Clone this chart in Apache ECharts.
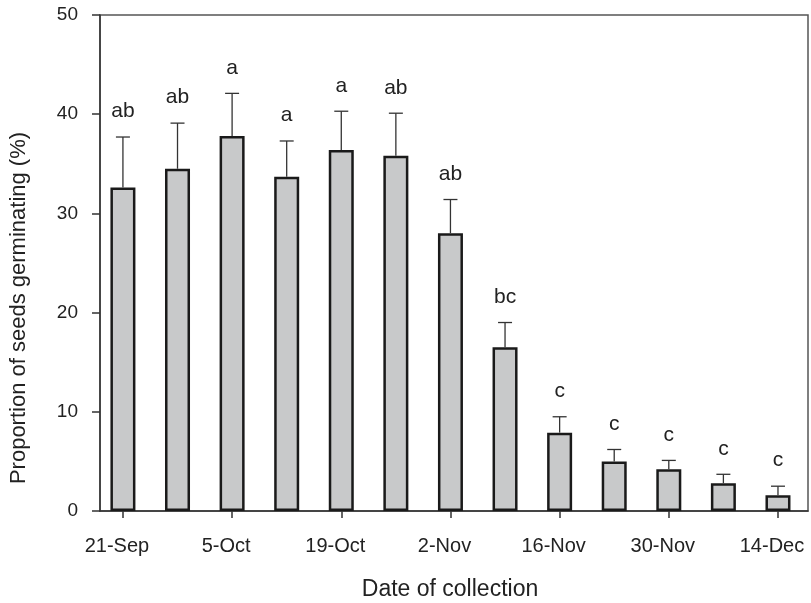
<!DOCTYPE html>
<html>
<head>
<meta charset="utf-8">
<script src="https://cdn.jsdelivr.net/npm/echarts@6/dist/echarts.min.js"></script>
<style>html,body{margin:0;padding:0;background:#fff;}#c{width:811px;height:603px;}</style>
</head>
<body>
<div id="c"></div>
<script>
const categories = ['21-Sep','28-Sep','5-Oct','12-Oct','19-Oct','26-Oct','2-Nov','9-Nov','16-Nov','23-Nov','30-Nov','7-Dec','14-Dec'];
const means = [32.6, 34.5, 37.8, 33.7, 36.4, 35.8, 28.0, 16.5, 7.9, 5.0, 4.2, 2.8, 1.6];
const errTops = [37.7, 39.1, 42.1, 37.3, 40.3, 40.1, 31.4, 19.0, 9.5, 6.2, 5.1, 3.7, 2.5];
const letters = ['ab','ab','a','a','a','ab','ab','bc','c','c','c','c','c'];
const labeledIdx = [0, 2, 4, 6, 8, 10, 12];
const yTicks = [0, 10, 20, 30, 40, 50];

const FONT = '"Liberation Sans", Arial, sans-serif';
const chart = echarts.init(document.getElementById('c'), null, {renderer: 'canvas'});
chart.setOption({
  animation: false,
  backgroundColor: '#fff',
  grid: {left: 100, right: 3, top: 15, bottom: 92, containLabel: false, outerBoundsMode: 'none', show: true, borderColor: '#555', borderWidth: 1.5, backgroundColor: 'transparent'},
  xAxis: {
    type: 'value',
    min: -0.42,
    max: 12.55,
    splitLine: {show: false},
    axisLine: {onZero: false, lineStyle: {color: '#333', width: 1.5}},
    axisTick: {show: true, customValues: labeledIdx, length: 7, lineStyle: {color: '#333', width: 1.5}},
    axisLabel: {customValues: labeledIdx, formatter: v => categories[Math.round(v)], margin: 25, padding: [0, 12, 0, 0], fontSize: 20, color: '#222', fontFamily: FONT},
    name: 'Date of collection',
    nameLocation: 'middle',
    nameGap: 67,
    nameTextStyle: {fontSize: 23, color: '#222', fontFamily: FONT, padding: [0, 8, 0, 0]}
  },
  yAxis: {
    type: 'value',
    min: yTicks[0],
    max: yTicks[yTicks.length - 1],
    interval: 10,
    splitLine: {show: false},
    axisLine: {show: true, onZero: false, lineStyle: {color: '#333', width: 1.5}},
    axisTick: {show: true, length: 8, lineStyle: {color: '#333', width: 1.5}},
    axisLabel: {margin: 22, fontSize: 19, color: '#222', fontFamily: FONT}
  },
  graphic: [{
    type: 'text',
    x: 19, y: 308,
    rotation: Math.PI / 2,
    style: {text: 'Proportion of seeds germinating (%)', fill: '#222', font: '22px ' + FONT, align: 'center', verticalAlign: 'middle'}
  }],
  series: [{
    type: 'bar',
    data: means.map((m, i) => [i, m]),
    barWidth: 25,
    itemStyle: {color: '#c8c9ca', borderColor: '#1a1a1a', borderWidth: 2.5},
    z: 2
  }, {
    type: 'custom',
    z: 3,
    data: means.map((m, i) => [i, m, errTops[i]]),
    renderItem: function (params, api) {
      const i = api.value(0);
      const base = api.coord([i, api.value(1)]);
      const top = api.coord([i, api.value(2)]);
      const capHalf = 7;
      return {
        type: 'group',
        children: [
          {type: 'line', shape: {x1: base[0], y1: base[1], x2: top[0], y2: top[1]}, style: {stroke: '#333', lineWidth: 1.3}},
          {type: 'line', shape: {x1: top[0] - capHalf, y1: top[1], x2: top[0] + capHalf, y2: top[1]}, style: {stroke: '#333', lineWidth: 1.3}},
          {type: 'text', x: top[0], y: top[1] - 15, style: {text: letters[params.dataIndex], fill: '#222', font: '21px ' + FONT, align: 'center', verticalAlign: 'bottom'}}
        ]
      };
    }
  }]
});
</script>
</body>
</html>
